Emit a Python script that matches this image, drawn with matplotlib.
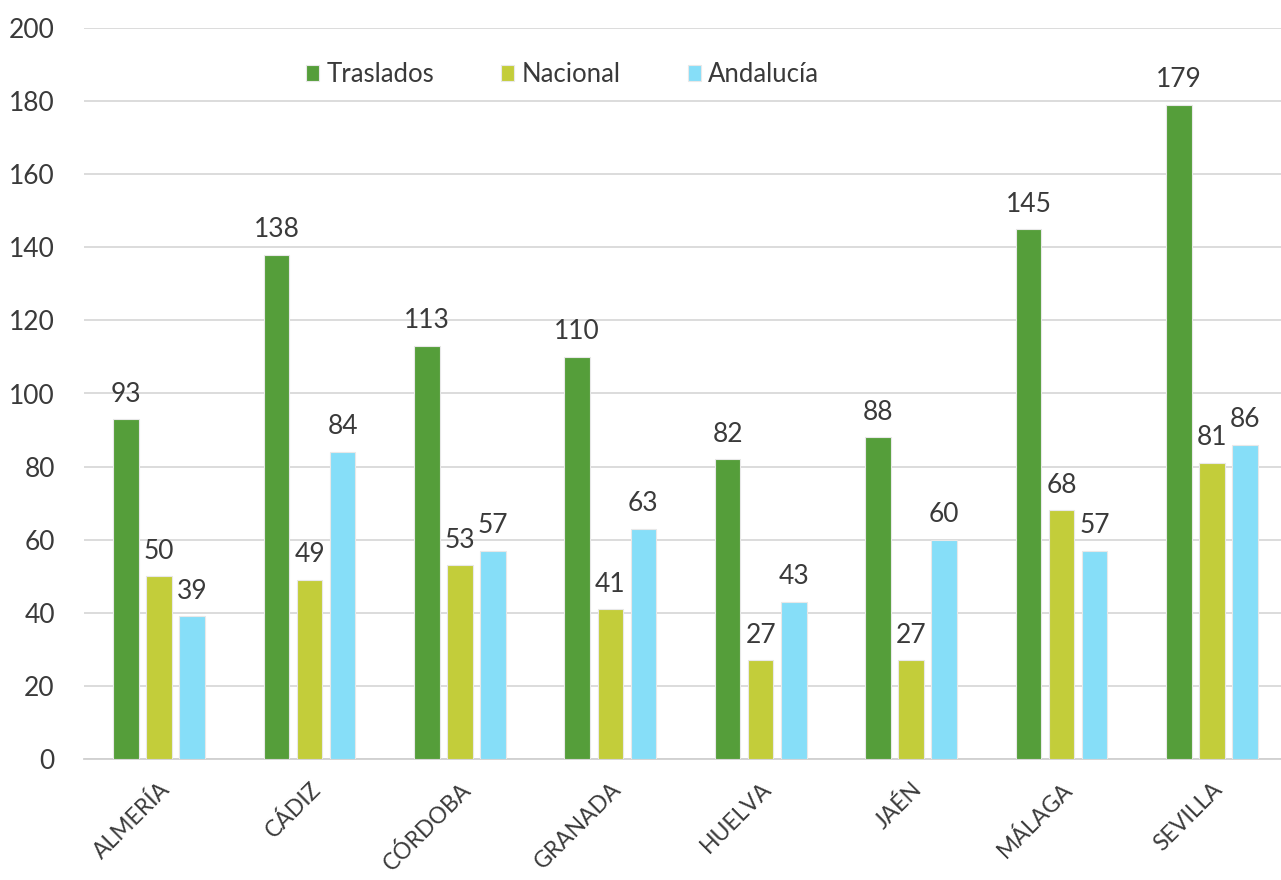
import numpy as np
import matplotlib.pyplot as plt

provincias = ['ALMERÍA', 'CÁDIZ', 'CÓRDOBA', 'GRANADA', 'HUELVA', 'JAÉN', 'MÁLAGA', 'SEVILLA']
traslados = [93, 138, 113, 110, 82, 88, 145, 179]
nacional = [50, 49, 53, 41, 27, 27, 68, 81]
andalucia = [39, 84, 57, 63, 43, 60, 57, 86]

series = ['Traslados', 'Nacional', 'Andalucía']
colores = ['#559E3A', '#C3CD3A', '#86DEF8']

plt.rcParams['font.family'] = ['Lato', 'DejaVu Sans']
txt = '#3A3A3A'

fig = plt.figure(figsize=(12.81, 8.8), dpi=100)
ax = fig.add_axes([84 / 1281, 1 - 759 / 880, 1 - 84 / 1281, (759 - 28) / 880])

x = np.arange(len(provincias))
w = 0.17
step = 0.22
for i, (vals, nombre, col) in enumerate(zip([traslados, nacional, andalucia], series, colores)):
    bars = ax.bar(x + (i - 1) * step, vals, w, color=col, label=nombre,
                  edgecolor='#E8E8E8', linewidth=0.8, zorder=3)
    ax.bar_label(bars, padding=9, fontsize=19, color=txt)

ax.set_xlim(-0.5, 7.46)
ax.set_ylim(0, 200)
ax.set_yticks(range(0, 201, 20))
ax.yaxis.grid(True, color='#D9D9D9', linewidth=1.3, zorder=0)
ax.set_axisbelow(True)
for s in ['top', 'right', 'left']:
    ax.spines[s].set_visible(False)
ax.spines['bottom'].set_color('#D0D0D0')
ax.spines['bottom'].set_linewidth(1.3)
ax.tick_params(axis='y', length=0, labelsize=19, labelcolor=txt, pad=21)
ax.set_xticks(x)
ax.set_xticklabels(provincias, rotation=45, ha='right', rotation_mode='anchor')
ax.tick_params(axis='x', length=0, labelsize=16.5, labelcolor=txt, pad=14)

ax.legend(loc='center', bbox_to_anchor=(0.40, 0.936), ncol=3, frameon=False,
          fontsize=18.5, labelcolor=txt, handlelength=0.5, handleheight=0.55,
          handletextpad=0.3, columnspacing=2.6)

fig.savefig('out.png', dpi=100)
